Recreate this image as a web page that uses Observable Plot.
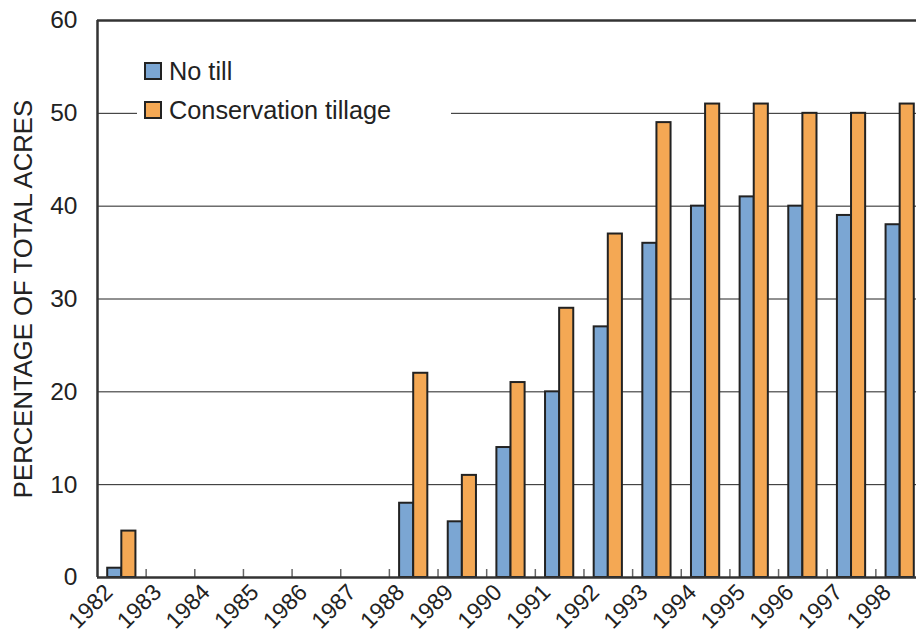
<!DOCTYPE html>
<html><head><meta charset="utf-8">
<script src="https://cdn.jsdelivr.net/npm/d3@7"></script>
<script src="https://cdn.jsdelivr.net/npm/@observablehq/plot@0.6"></script>
<style>
html,body{margin:0;padding:0;background:#fff;overflow:hidden;}
#wrap{position:relative;width:916px;height:635px;overflow:hidden;}
#legend{position:absolute;left:137px;top:44px;width:314px;height:88px;background:#fff;font-family:"Liberation Sans",Arial,Helvetica,sans-serif;font-size:25.3px;color:#222;}
.item{position:absolute;left:7px;display:flex;align-items:center;line-height:18px;white-space:nowrap;}
.sw{width:14px;height:14px;border:2px solid #222;margin-right:7px;}
</style></head><body><div id="wrap"><div id="chart"></div><div id="legend"></div></div>
<script>
// ---- data ----
const years = [1982, 1983, 1984, 1985, 1986, 1987, 1988, 1989, 1990, 1991, 1992, 1993, 1994, 1995, 1996, 1997, 1998];
const noTill = [1, null, null, null, null, null, 8, 6, 14, 20, 27, 36, 40, 41, 40, 39, 38];
const conservationTillage = [5, null, null, null, null, null, 22, 11, 21, 29, 37, 49, 51, 51, 50, 50, 51];
const seriesNames = ["No till", "Conservation tillage"];
const seriesColors = ["#7ba6d3", "#f4a854"];
const yTicks = [0, 10, 20, 30, 40, 50, 60];
const yLabel = "PERCENTAGE OF TOTAL ACRES";

// ---- table ----
const rows = [];
years.forEach((yr, i) => {
  if (noTill[i] != null) rows.push({year: yr, series: seriesNames[0], value: noTill[i], side: -1});
  if (conservationTillage[i] != null) rows.push({year: yr, series: seriesNames[1], value: conservationTillage[i], side: 1});
});
const BAR = 0.29; // bar width as a fraction of a year step
const boundaries = years.map(y => y + 0.5);
const gridValues = yTicks.filter(v => v > 0 && v < 60);
const font = '"Liberation Sans", Arial, Helvetica, sans-serif';

const chart = Plot.plot({
  width: 924,
  height: 635,
  marginLeft: 97,
  marginRight: 0,
  marginTop: 20,
  marginBottom: 58,
  style: {fontFamily: font, fontSize: "25px", color: "#222", maxWidth: "none", background: "transparent", overflow: "hidden"},
  x: {domain: [years[0] - 0.5, years[years.length - 1] + 0.5]},
  y: {domain: [0, 60]},
  color: {domain: seriesNames, range: seriesColors},
  marks: [
    Plot.ruleY(gridValues, {stroke: "#222", strokeWidth: 1}),
    Plot.rect(rows, {
      x1: d => d.side < 0 ? d.year - BAR : d.year,
      x2: d => d.side < 0 ? d.year : d.year + BAR,
      y1: 0,
      y2: "value",
      fill: "series",
      stroke: "#222",
      strokeWidth: 2
    }),
    Plot.ruleX(boundaries, {y1: 0, y2: 0.86, stroke: "#666", strokeWidth: 1.5}),
    Plot.ruleY([0], {stroke: "#333", strokeWidth: 2.5}),
    Plot.ruleY([60], {stroke: "#333", strokeWidth: 2.5}),
    Plot.ruleX([years[0] - 0.5], {stroke: "#333", strokeWidth: 2.5}),
    Plot.axisY({ticks: yTicks, tickSize: 0, tickPadding: 20, fontSize: 24.5, label: null, fill: "#222"}),
    Plot.axisY({ticks: [], tickSize: 0, label: yLabel, labelAnchor: "center", labelArrow: "none", labelOffset: 84, fontSize: 25.7, fill: "#222"}),
    Plot.axisX({ticks: years, tickSize: 0, tickPadding: 8, tickRotate: -45, tickFormat: d => String(d), label: null, fontSize: 23, dx: -13, dy: 3, fill: "#222"})
  ]
});
document.getElementById("chart").appendChild(chart);

// legend (sits inside the plot frame, white box over the 50 gridline)
const legend = document.getElementById("legend");
const tops = [18, 57];
seriesNames.forEach((name, i) => {
  const item = document.createElement("div");
  item.className = "item";
  item.style.top = tops[i] + "px";
  const sw = document.createElement("span");
  sw.className = "sw";
  sw.style.background = seriesColors[i];
  const t = document.createElement("span");
  t.textContent = name;
  item.appendChild(sw);
  item.appendChild(t);
  legend.appendChild(item);
});
</script>
</body></html>
